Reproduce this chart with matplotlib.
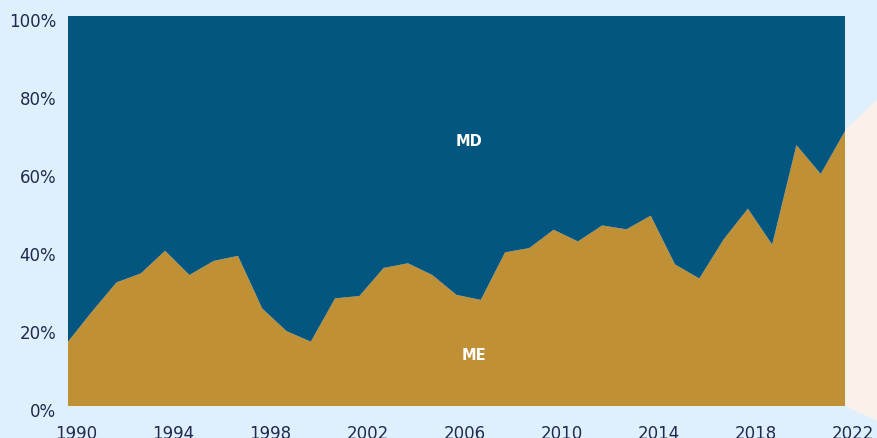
import matplotlib
matplotlib.use("Agg")
import matplotlib.pyplot as plt
import matplotlib.transforms as mtransforms
from matplotlib.patches import Polygon
import numpy as np

years = list(range(1990, 2023))
me_share = [16.5, 24.3, 31.7, 34.0, 39.8, 33.6, 37.2, 38.5, 25.0, 19.2,
            16.5, 27.6, 28.2, 35.4, 36.6, 33.6, 28.5, 27.2, 39.4, 40.5,
            45.2, 42.2, 46.3, 45.3, 48.8, 36.3, 32.7, 42.7, 50.6, 41.4,
            66.9, 59.5, 70.5]
md_share = [100 - v for v in me_share]
series_labels = ["ME", "MD"]
x_ticks = list(range(1990, 2023, 4))
y_ticks = [0, 20, 40, 60, 80, 100]

bg = "#DFF0FC"
gold = "#C09036"
navy = "#02567F"
text_col = "#1F2A4E"

W, H = 878, 439
fig = plt.figure(figsize=(W / 100, H / 100), dpi=100, facecolor=bg)

# beige decoration at right
poly = Polygon([(845 / W, 1 - 131 / H), (1.0, 1 - 100 / H), (1.0, 1 - 422 / H), (845 / W, 1 - 407 / H)],
               closed=True, transform=fig.transFigure, facecolor="#FAF1EA", edgecolor="none", zorder=0)
fig.patches.append(poly)

ax = fig.add_axes([68 / W, (H - 407) / H, 777 / W, 390 / H])
ax.set_facecolor("none")
ax.stackplot(years, me_share, md_share, colors=[gold, navy], linewidth=0)
ax.set_xlim(1990, 2022)
ax.set_ylim(0, 100)

for s in ax.spines.values():
    s.set_visible(False)

ax.set_yticks(y_ticks)
ax.set_yticklabels([f"{v}%" for v in y_ticks])
ax.set_xticks(x_ticks)
ax.set_xticklabels([str(v) for v in x_ticks])
ax.tick_params(length=0, colors=text_col, labelsize=12)
ax.tick_params(axis="y", pad=8.5)
ax.tick_params(axis="x", pad=13)
for lab in ax.get_yticklabels() + ax.get_xticklabels():
    lab.set_fontfamily("DejaVu Sans")
offset_x = mtransforms.ScaledTranslation(8 / 100, 0, fig.dpi_scale_trans)
for lab in ax.get_xticklabels():
    lab.set_transform(lab.get_transform() + offset_x)
offset_y = mtransforms.ScaledTranslation(0, -3 / 100, fig.dpi_scale_trans)
for lab in ax.get_yticklabels():
    lab.set_transform(lab.get_transform() + offset_y)

ax.text(2006.5, 68, series_labels[1], color="white", fontsize=10.5, fontweight="bold",
        ha="center", va="center", fontfamily="DejaVu Sans")
ax.text(2006.7, 13.2, series_labels[0], color="white", fontsize=10.5, fontweight="bold",
        ha="center", va="center", fontfamily="DejaVu Sans")

fig.savefig("out.png", dpi=100, facecolor=bg)
